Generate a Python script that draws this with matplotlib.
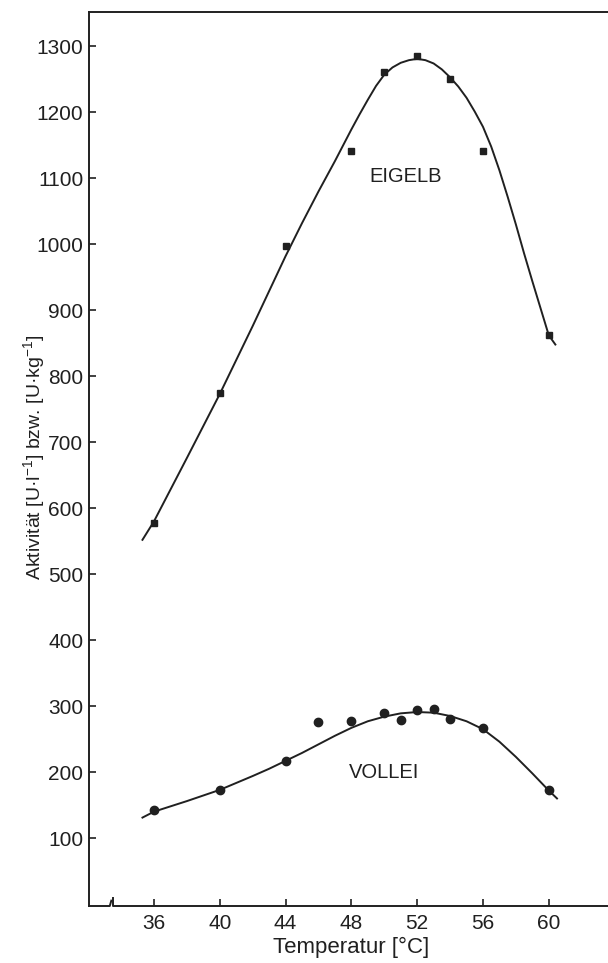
import matplotlib
matplotlib.use("Agg")
import matplotlib.pyplot as plt

plt.rcParams['font.family'] = ['Liberation Sans', 'DejaVu Sans']
plt.rcParams['mathtext.default'] = 'regular'

# measured points
eigelb_x = [36, 40, 44, 48, 50, 52, 54, 56, 60]
eigelb_y = [577, 774, 998, 1142, 1261, 1286, 1250, 1141, 862]

vollei_x = [36, 40, 44, 46, 48, 50, 51, 52, 53, 54, 56, 60]
vollei_y = [142, 173, 217, 276, 277, 290, 279, 294, 296, 281, 267, 173]

# hand drawn fit curves
eigelb_curve_x = [35.3, 36, 38, 40, 42, 44, 45, 46, 47, 47.5, 48, 48.5, 49, 49.5, 50,
                  50.5, 51, 51.5, 52, 52.5, 53, 53.5, 54, 54.5, 55, 55.5, 56, 56.5, 57,
                  57.5, 58, 58.5, 59, 59.5, 60, 60.4]
eigelb_curve_y = [552, 580, 676, 773, 876, 982, 1032, 1080, 1126, 1150, 1174, 1197,
                  1219, 1240, 1257, 1268, 1275, 1279, 1281, 1279, 1274, 1265, 1253, 1239,
                  1222, 1201, 1178, 1148, 1112, 1072, 1030, 986, 944, 903, 862, 848]

vollei_curve_x = [35.3, 36, 38, 40, 42, 43, 44, 45, 46, 47, 48, 49, 50, 51, 52, 53, 54,
                  55, 56, 57, 58, 59, 60, 60.5]
vollei_curve_y = [131, 140, 156, 173, 194, 205, 217, 229, 242, 255, 267, 277, 284, 289,
                  291, 290, 285, 277, 265, 246, 223, 198, 172, 160]

x_ticks = [36, 40, 44, 48, 52, 56, 60]
y_ticks = [100, 200, 300, 400, 500, 600, 700, 800, 900, 1000, 1100, 1200, 1300]

ink = '#202020'

fig = plt.figure(figsize=(6.08, 9.63), dpi=100)
ax = fig.add_axes([89 / 608, 1 - 906 / 963, 519 / 608, 894 / 963])

ax.plot(eigelb_curve_x, eigelb_curve_y, color=ink, lw=1.4)
ax.plot(vollei_curve_x, vollei_curve_y, color=ink, lw=1.4)
ax.plot(eigelb_x, eigelb_y, 's', color=ink, ms=5, ls='none')
ax.plot(vollei_x, vollei_y, 'o', color=ink, ms=6, ls='none')

ax.text(51.3, 1103, 'EIGELB', ha='center', va='center', fontsize=14.5, color=ink)
ax.text(50.0, 200, 'VOLLEI', ha='center', va='center', fontsize=14.5, color=ink)

ax.set_xlim(32.05, 63.6)
ax.set_ylim(-3, 1352)
ax.set_xticks(x_ticks)
ax.set_yticks(y_ticks)
ax.tick_params(direction='in', length=5, width=1.2, labelsize=15, colors=ink, pad=4)
ax.tick_params(axis='x', pad=6)

ax.spines['right'].set_visible(False)
ax.spines['bottom'].set_visible(False)
for s in ['left', 'top']:
    ax.spines[s].set_linewidth(1.4)
    ax.spines[s].set_color(ink)

# x axis with break mark
ax.plot([0, 0.040, 0.043], [0, 0, 0.006], color=ink, lw=1.4,
        transform=ax.transAxes, clip_on=False)
ax.plot([0.047, 0.047, 1], [0.009, 0, 0], color=ink, lw=1.4,
        transform=ax.transAxes, clip_on=False)

ax.set_xlabel('Temperatur [°C]', fontsize=16, color=ink)
ax.xaxis.set_label_coords(0.505, -0.035)
ax.set_ylabel('Aktivität [U·l$^{-1}$] bzw. [U·kg$^{-1}$]', fontsize=14, color=ink)
ax.yaxis.set_label_coords(-0.08, 0.502)

fig.savefig('out.png', dpi=100)
